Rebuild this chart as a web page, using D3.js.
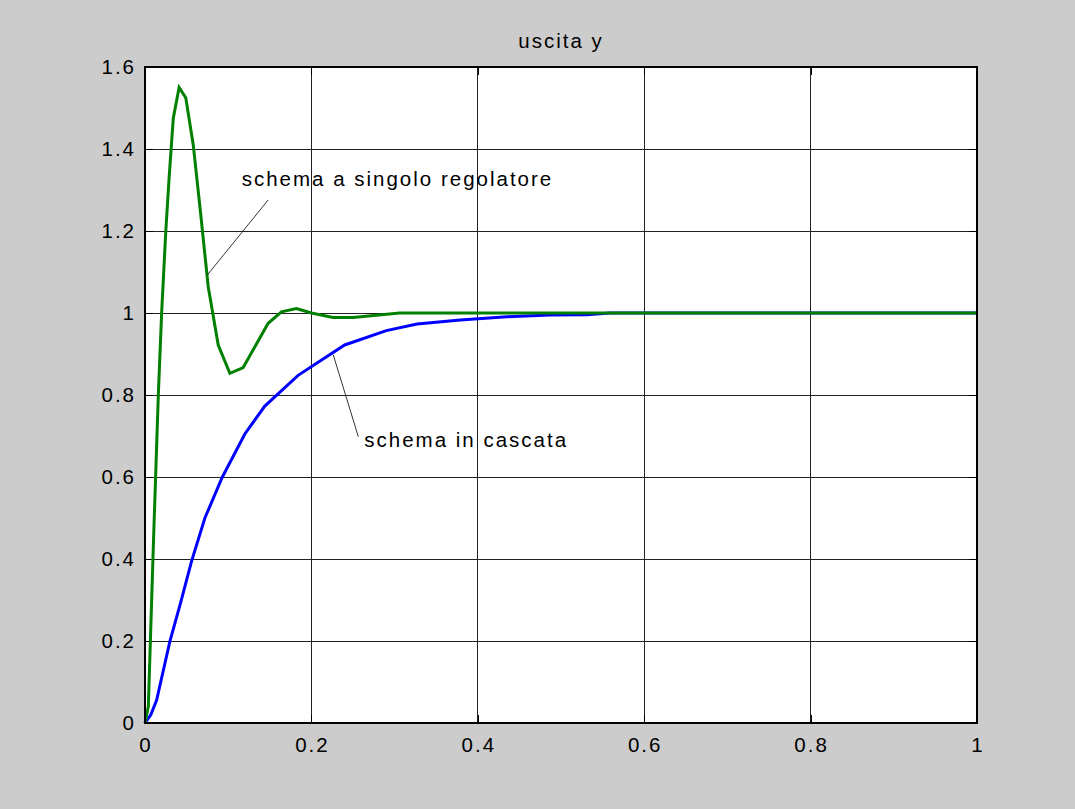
<!DOCTYPE html>
<html>
<head>
<meta charset="utf-8">
<script src="https://cdn.jsdelivr.net/npm/d3@7"></script>
<style>
  html, body { margin: 0; padding: 0; background: #cccccc; }
  svg text { font-family: "Liberation Sans", Arial, sans-serif; font-size: 20.5px; letter-spacing: 2px; fill: #000; }
</style>
</head>
<body>
<div id="chart"></div>
<script>
// step response, single controller (green)
const singoloT = [0, 0.004, 0.010, 0.016, 0.020, 0.025, 0.029, 0.034, 0.041, 0.049, 0.058, 0.067, 0.076, 0.088, 0.102, 0.118, 0.148, 0.164, 0.182, 0.200, 0.226, 0.250, 0.306, 0.400, 0.600, 1.000];
const singoloY = [0, 0.04, 0.43, 0.80, 1.00, 1.20, 1.33, 1.475, 1.55, 1.525, 1.41, 1.24, 1.064, 0.922, 0.853, 0.867, 0.975, 1.003, 1.011, 1.000, 0.989, 0.989, 1.000, 1.000, 1.000, 1.000];

// step response, cascade scheme (blue)
const cascataT = [0, 0.007, 0.014, 0.030, 0.043, 0.056, 0.072, 0.093, 0.120, 0.144, 0.184, 0.240, 0.290, 0.327, 0.379, 0.435, 0.487, 0.531, 0.559, 0.700, 1.000];
const cascataY = [0, 0.02, 0.056, 0.20, 0.295, 0.395, 0.50, 0.60, 0.705, 0.773, 0.848, 0.922, 0.957, 0.973, 0.983, 0.991, 0.995, 0.996, 1.000, 1.000, 1.000];

const xTicks = [0, 0.2, 0.4, 0.6, 0.8, 1];
const yTicks = [0, 0.2, 0.4, 0.6, 0.8, 1, 1.2, 1.4, 1.6];

const titleText = "uscita y";
// annotation: text anchor and leader line, all in data units
const annotations = [
  { text: "schema a singolo regolatore", tx: 0.1162, ty: 1.310, x1: 0.148, y1: 1.2756, x2: 0.0749, y2: 1.0927 },
  { text: "schema in cascata", tx: 0.2636, ty: 0.674, x1: 0.2564, y1: 0.6983, x2: 0.2263, y2: 0.8976 }
];

const W = 1075, H = 809;
const m = { left: 145, right: 98, top: 67, bottom: 86 };

const x = d3.scaleLinear().domain([0, 1]).range([m.left, W - m.right]);
const y = d3.scaleLinear().domain([0, 1.6]).range([H - m.bottom, m.top]);

const svg = d3.select("#chart").append("svg")
  .attr("width", W)
  .attr("height", H);

svg.append("rect").attr("width", W).attr("height", H).attr("fill", "#cccccc");

svg.append("rect")
  .attr("x", x(0)).attr("y", y(1.6))
  .attr("width", x(1) - x(0)).attr("height", y(0) - y(1.6))
  .attr("fill", "#fff");

// grid
const grid = svg.append("g").attr("stroke", "#222").attr("stroke-width", 1).attr("shape-rendering", "crispEdges");
grid.selectAll(".gx").data(xTicks.slice(1, -1)).join("line")
  .attr("x1", d => x(d)).attr("x2", d => x(d))
  .attr("y1", y(0)).attr("y2", y(1.6));
grid.selectAll(".gy").data(yTicks.slice(1, -1)).join("line")
  .attr("class", "gy")
  .attr("x1", x(0)).attr("x2", x(1))
  .attr("y1", d => y(d)).attr("y2", d => y(d));

// axes (ticks inward on all four sides, like matlab)
const tick = 8;
svg.append("g").attr("transform", `translate(0,${y(0)})`)
  .call(d3.axisTop(x).tickValues(xTicks).tickSize(tick).tickFormat(""))
  .call(g => g.select(".domain").remove());
svg.append("g").attr("transform", `translate(0,${y(1.6)})`)
  .call(d3.axisBottom(x).tickValues(xTicks).tickSize(tick).tickFormat(""))
  .call(g => g.select(".domain").remove());
svg.append("g").attr("transform", `translate(${x(0)},0)`)
  .call(d3.axisRight(y).tickValues(yTicks).tickSize(tick).tickFormat(""))
  .call(g => g.select(".domain").remove());
svg.append("g").attr("transform", `translate(${x(1)},0)`)
  .call(d3.axisLeft(y).tickValues(yTicks).tickSize(tick).tickFormat(""))
  .call(g => g.select(".domain").remove());
svg.selectAll(".tick line").attr("stroke", "#000").attr("shape-rendering", "crispEdges");

// tick labels
svg.append("g").selectAll("text").data(xTicks).join("text")
  .attr("x", d => x(d) + 1)
  .attr("y", y(0) + 29)
  .attr("text-anchor", "middle")
  .text(d => d3.format("~g")(d));
svg.append("g").selectAll("text").data(yTicks).join("text")
  .attr("x", x(0) - 9)
  .attr("y", d => y(d) + 7)
  .attr("text-anchor", "end")
  .text(d => d3.format("~g")(d));

// curves
const line = d3.line().x(d => x(d[0])).y(d => y(d[1]));
const curves = [
  { t: cascataT, v: cascataY, color: "#0000ff" },
  { t: singoloT, v: singoloY, color: "#008000" }
];
svg.append("g").selectAll("path").data(curves).join("path")
  .attr("fill", "none")
  .attr("stroke", d => d.color)
  .attr("stroke-width", 3)
  .attr("stroke-linejoin", "miter")
  .attr("d", d => line(d.t.map((t, i) => [t, d.v[i]])));

// box
svg.append("rect")
  .attr("x", x(0)).attr("y", y(1.6))
  .attr("width", x(1) - x(0)).attr("height", y(0) - y(1.6))
  .attr("fill", "none").attr("stroke", "#000").attr("stroke-width", 1.2)
  .attr("shape-rendering", "crispEdges");

// annotations
const ann = svg.append("g");
ann.selectAll("line").data(annotations).join("line")
  .attr("x1", d => x(d.x1)).attr("y1", d => y(d.y1))
  .attr("x2", d => x(d.x2)).attr("y2", d => y(d.y2))
  .attr("stroke", "#000").attr("stroke-width", 0.8);
ann.selectAll("text").data(annotations).join("text")
  .attr("x", d => x(d.tx)).attr("y", d => y(d.ty))
  .text(d => d.text);

// title
svg.append("text")
  .attr("x", (x(0) + x(1)) / 2)
  .attr("y", 48)
  .attr("text-anchor", "middle")
  .text(titleText);
</script>
</body>
</html>
